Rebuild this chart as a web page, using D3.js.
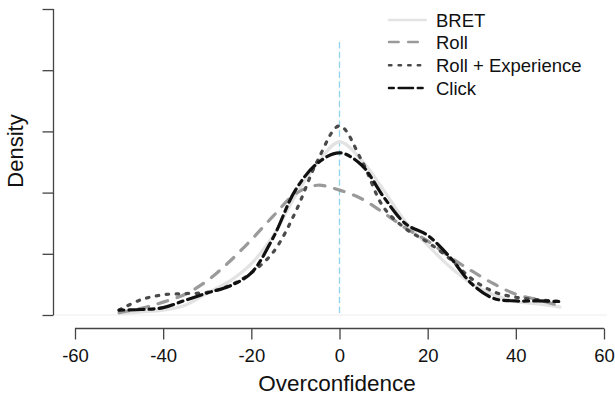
<!DOCTYPE html>
<html><head><meta charset="utf-8">
<script src="https://cdn.jsdelivr.net/npm/d3@7"></script>
<style>body{margin:0;background:#fff;} text{font-family:"Liberation Sans",Arial,Helvetica,sans-serif;fill:#111;}</style>
</head><body>
<svg id="chart" width="615" height="394"></svg>
<script>
// Data (overconfidence grid and estimated densities)
const xGrid = [-50,-45,-40,-35,-30,-25,-20,-15,-10,-5,0,5,10,15,20,25,30,35,40,45,50];
const bret  = [0.0002,0.0005,0.0008,0.0016,0.0036,0.0055,0.0084,0.0130,0.0195,0.0248,0.0283,0.0253,0.0204,0.0152,0.0114,0.0079,0.0051,0.0033,0.0022,0.0018,0.0013];
const roll  = [0.0004,0.0011,0.0021,0.0034,0.0056,0.0087,0.0123,0.0162,0.0198,0.0212,0.0204,0.0190,0.0167,0.0142,0.0121,0.0095,0.0072,0.0051,0.0034,0.0025,0.0015];
const rollExp = [0.0008,0.0025,0.0033,0.0035,0.0037,0.0048,0.0069,0.0103,0.0168,0.0252,0.0309,0.0253,0.0176,0.0141,0.0119,0.0092,0.0059,0.0038,0.0029,0.0025,0.0022];
const click = [0.0008,0.0009,0.0012,0.0024,0.0036,0.0047,0.0069,0.0127,0.0204,0.0248,0.0265,0.0245,0.0193,0.0149,0.0130,0.0095,0.0051,0.0027,0.0023,0.0023,0.0022];
const seriesNames = ["BRET","Roll","Roll + Experience","Click"];
const xTicks = [-60,-40,-20,0,20,40,60];
const yTicks = [0,0.01,0.02,0.03,0.04,0.05];

const styles = {
  "BRET": {color:"#e3e3e3", dash:null},
  "Roll": {color:"#9a9a9a", dash:[10,10]},
  "Roll + Experience": {color:"#4a4a4a", dash:[2.5,7.5]},
  "Click": {color:"#111111", dash:[5,5,15,5]}
};
const seriesData = {"BRET":bret,"Roll":roll,"Roll + Experience":rollExp,"Click":click};

const svg = d3.select("#chart");
const x = d3.scaleLinear().domain([-60,60]).range([75,604]);
const y = d3.scaleLinear().domain([0,0.05]).range([315,9]);

// baseline
svg.append("line").attr("x1",54).attr("x2",607).attr("y1",y(0)).attr("y2",y(0))
  .attr("stroke","#eeeeee").attr("stroke-width",1);

// zero reference line
svg.append("line").attr("x1",x(0)).attr("x2",x(0)).attr("y1",42).attr("y2",y(0))
  .attr("stroke","#8fd3ec").attr("stroke-width",1.3).attr("stroke-dasharray","6.5,3.3");

// density lines
const line = d3.line().x((d,i)=>x(xGrid[i])).y(d=>y(d)).curve(d3.curveCatmullRom.alpha(0.5));
seriesNames.forEach(name=>{
  const s = styles[name];
  const p = svg.append("path").datum(seriesData[name]).attr("d",line)
    .attr("fill","none").attr("stroke",s.color).attr("stroke-width",3.2)
    .attr("stroke-linecap","round").attr("stroke-linejoin","round");
  if(s.dash) p.attr("stroke-dasharray",s.dash.join(","));
});

// y axis (no labels)
const yAxis = d3.axisLeft(y).tickValues(yTicks).tickSize(11).tickFormat("");
const gy = svg.append("g").attr("transform","translate(53.5,0)").call(yAxis);
gy.select(".domain").attr("d",`M0,${y(0.05)}V${y(0)}`);
gy.selectAll("line,path").attr("stroke","#444").attr("stroke-width",1.3);

// x axis
const xAxis = d3.axisBottom(x).tickValues(xTicks).tickSize(11).tickPadding(5).tickFormat(d=>d);
const gx = svg.append("g").attr("transform","translate(0,328.5)").call(xAxis);
gx.select(".domain").attr("d",`M${x(-60)},0H${x(60)}`);
gx.selectAll("line,path").attr("stroke","#444").attr("stroke-width",1.3);
gx.selectAll("text").attr("font-size",18.5).attr("fill","#111").attr("font-family","Liberation Sans, Arial, sans-serif")
  .attr("dy",null).attr("y",27).attr("dominant-baseline","central");

// axis titles
svg.append("text").attr("x",337).attr("y",383).attr("text-anchor","middle")
  .attr("dominant-baseline","central").attr("font-size",22.5).text("Overconfidence");
svg.append("text").attr("transform","translate(23,151) rotate(-90)").attr("text-anchor","middle")
  .attr("font-size",22).text("Density");

// legend
const legY = [20,42,65.3,88];
seriesNames.forEach((name,i)=>{
  const s = styles[name];
  const l = svg.append("line").attr("x1",389).attr("x2",425.7).attr("y1",legY[i]).attr("y2",legY[i])
    .attr("stroke",s.color).attr("stroke-width",2.5).attr("stroke-linecap","round");
  if(s.dash) l.attr("stroke-dasharray",s.dash.map(v=>v*0.96).join(","));
  svg.append("text").attr("x",436).attr("y",legY[i]).attr("dominant-baseline","central")
    .attr("font-size",18.5).text(name);
});
</script>
</body></html>
